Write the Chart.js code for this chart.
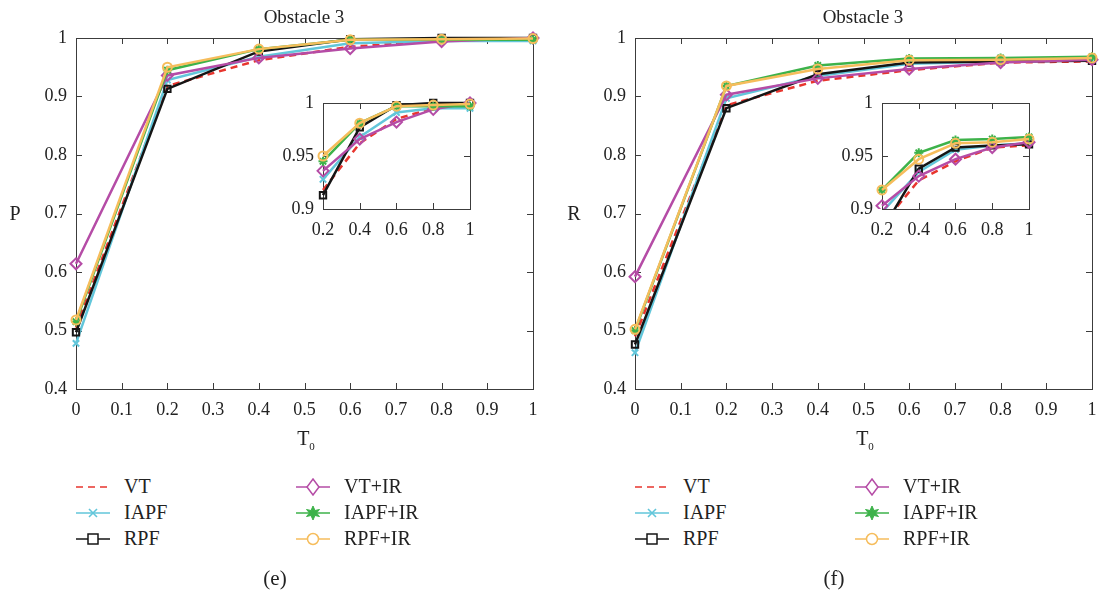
<!DOCTYPE html>
<html>
<head>
<meta charset="utf-8">
<script src="https://cdn.jsdelivr.net/npm/chart.js@4.4.0/dist/chart.umd.min.js"></script>
<style>
  body { margin: 0; background: #fff; font-family: 'Liberation Serif', serif; color: #222; }
  .panel { position: absolute; top: 0; width: 555px; height: 595px; }
  canvas { position: absolute; }
  .txt { position: absolute; font-size: 19px; white-space: nowrap; transform: translate(-50%, -50%); }
  .leg { position: absolute; font-size: 20px; white-space: nowrap; display: flex; align-items: center; }
  .leg svg { margin-right: 14px; }
</style>
</head>
<body>
<div id="root"></div>
<script>
// x values (T0)
const t0 = [0, 0.2, 0.4, 0.6, 0.8, 1];

const seriesNames = ['VT', 'IAPF', 'RPF', 'VT+IR', 'IAPF+IR', 'RPF+IR'];

// panel (e): precision P
const pVT     = [0.505, 0.918, 0.962, 0.985, 0.995, 1.000];
const pIAPF   = [0.478, 0.928, 0.968, 0.991, 0.995, 0.995];
const pRPF    = [0.497, 0.913, 0.977, 0.998, 1.000, 1.000];
const pVTIR   = [0.614, 0.936, 0.966, 0.982, 0.994, 1.000];
const pIAPFIR = [0.515, 0.945, 0.981, 0.997, 0.997, 0.997];
const pRPFIR  = [0.518, 0.950, 0.981, 0.997, 0.998, 0.999];

// panel (f): recall R
const rVT     = [0.490, 0.885, 0.927, 0.945, 0.958, 0.960];
const rIAPF   = [0.462, 0.897, 0.935, 0.956, 0.960, 0.962];
const rRPF    = [0.476, 0.880, 0.938, 0.958, 0.960, 0.961];
const rVTIR   = [0.592, 0.903, 0.931, 0.947, 0.958, 0.963];
const rIAPFIR = [0.500, 0.918, 0.953, 0.965, 0.966, 0.968];
const rRPFIR  = [0.502, 0.918, 0.947, 0.962, 0.963, 0.966];

// ticks
const xTicks = [0, 0.1, 0.2, 0.3, 0.4, 0.5, 0.6, 0.7, 0.8, 0.9, 1];
const xTickLabels = ['0', '0.1', '0.2', '0.3', '0.4', '0.5', '0.6', '0.7', '0.8', '0.9', '1'];
const yTicks = [0.4, 0.5, 0.6, 0.7, 0.8, 0.9, 1];
const yTickLabels = ['0.4', '0.5', '0.6', '0.7', '0.8', '0.9', '1'];
const insetXTicks = [0.2, 0.4, 0.6, 0.8, 1];
const insetXTickLabels = ['0.2', '0.4', '0.6', '0.8', '1'];
const insetYTicks = [0.9, 0.95, 1];
const insetYTickLabels = ['0.9', '0.95', '1'];

const colors = ['#e8352e', '#62c6da', '#151515', '#b54ca6', '#3db24a', '#f6bd5c'];
const markers = [false, 'crossRot', 'rect', 'rectRot', 'star', 'circle'];
const FONT = "'Liberation Serif', serif";

const boxTicks = {
  id: 'boxTicks',
  beforeDatasetsDraw(chart) {
    const { ctx, chartArea: a, scales: { x, y } } = chart;
    ctx.save();
    ctx.strokeStyle = '#3c3c3c';
    ctx.lineWidth = 1;
    ctx.strokeRect(Math.round(a.left) + 0.5, Math.round(a.top) + 0.5,
      Math.round(a.right - a.left), Math.round(a.bottom - a.top));
    ctx.beginPath();
    x.ticks.forEach(t => {
      const px = Math.round(x.getPixelForValue(t.value)) + 0.5;
      ctx.moveTo(px, a.bottom); ctx.lineTo(px, a.bottom - 6);
      ctx.moveTo(px, a.top); ctx.lineTo(px, a.top + 6);
    });
    y.ticks.forEach(t => {
      const py = Math.round(y.getPixelForValue(t.value)) + 0.5;
      ctx.moveTo(a.left, py); ctx.lineTo(a.left + 6, py);
      ctx.moveTo(a.right, py); ctx.lineTo(a.right - 6, py);
    });
    ctx.stroke();
    ctx.restore();
  }
};

function datasets(values, from, clip) {
  return values.map((v, i) => ({
    label: seriesNames[i],
    data: t0.slice(from).map((x, k) => ({ x: x, y: v[from + k] })),
    borderColor: colors[i],
    backgroundColor: 'transparent',
    borderWidth: 2.5,
    borderDash: i === 0 ? [7, 5] : [],
    pointStyle: markers[i] || 'circle',
    pointRadius: markers[i] ? (i === 3 ? 5.5 : 4.5) : 0,
    pointBorderWidth: 2,
    pointBorderColor: colors[i],
    pointBackgroundColor: i === 4 ? colors[i] : 'transparent',
    order: 5 - i,
    clip: clip
  }));
}

function scale(min, max, ticks, labels, pad, size, isX) {
  return {
    type: 'linear', min: min, max: max,
    grid: { display: false, drawTicks: false },
    border: { display: false },
    afterBuildTicks: s => { s.ticks = ticks.map(v => ({ value: v })); },
    afterFit: s => { if (isX) s.height = size; else s.width = size; },
    ticks: {
      autoSkip: false, maxRotation: 0, padding: pad,
      color: '#222', font: { family: FONT, size: 18 },
      callback: v => labels[ticks.findIndex(t => Math.abs(t - v) < 1e-9)]
    }
  };
}

function makeChart(canvas, dsets, xs, ys, padding) {
  return new Chart(canvas, {
    type: 'line',
    data: { datasets: dsets },
    options: {
      responsive: false, animation: false, devicePixelRatio: 1,
      layout: { padding: padding },
      plugins: { legend: { display: false }, tooltip: { enabled: false } },
      scales: { x: xs, y: ys }
    },
    plugins: [boxTicks]
  });
}

function legendIcon(i) {
  const c = colors[i];
  let m = '';
  if (markers[i] === 'crossRot') m = `<path d="M13 5 L21 13 M21 5 L13 13" stroke="${c}" stroke-width="1.6"/>`;
  if (markers[i] === 'rect') m = `<rect x="12" y="4" width="10" height="10" fill="#fff" stroke="${c}" stroke-width="1.5"/>`;
  if (markers[i] === 'rectRot') m = `<path d="M17 1 L23 9 L17 17 L11 9 Z" fill="#fff" stroke="${c}" stroke-width="1.5"/>`;
  if (markers[i] === 'star') m = `<path d="M17 2 L19 6.5 L23.5 5.5 L20.5 9 L23.5 12.5 L19 11.5 L17 16 L15 11.5 L10.5 12.5 L13.5 9 L10.5 5.5 L15 6.5 Z" fill="${c}" stroke="${c}" stroke-width="1"/>`;
  if (markers[i] === 'circle') m = `<circle cx="17" cy="9" r="5.5" fill="#fff" stroke="${c}" stroke-width="1.5"/>`;
  const dash = i === 0 ? 'stroke-dasharray="7 5"' : '';
  return `<svg width="34" height="18"><line x1="0" y1="9" x2="34" y2="9" stroke="${c}" stroke-width="1.6" ${dash}/>${m}</svg>`;
}

function panel(left, values, yLabel, tag) {
  const div = document.createElement('div');
  div.className = 'panel';
  div.style.left = left + 'px';
  document.getElementById('root').appendChild(div);

  const main = document.createElement('canvas');
  main.width = 555; main.height = 430;
  main.style.left = '0px'; main.style.top = '0px';
  div.appendChild(main);
  makeChart(main, datasets(values, 0, false),
    scale(0, 1, xTicks, xTickLabels, 10, 41, true),
    scale(0.4, 1, yTicks, yTickLabels, 9, 76, false),
    { left: 0, right: 22, top: 38, bottom: 0 });

  const inset = document.createElement('canvas');
  inset.width = 215; inset.height = 160;
  inset.style.left = '270px'; inset.style.top = '80px';
  div.appendChild(inset);
  makeChart(inset, datasets(values, 1, { left: 8, right: 8, top: 8, bottom: 0 }),
    scale(0.2, 1, insetXTicks, insetXTickLabels, 10, 31, true),
    scale(0.9, 1, insetYTicks, insetYTickLabels, 9, 53, false),
    { left: 0, right: 15, top: 23, bottom: 0 });

  const texts = [
    ['Obstacle 3', 304, 17, 19],
    [yLabel, 15, 213, 20],
    ['T<sub style="font-size:11px">0</sub>', 306, 439, 20],
    [tag, 275, 578, 21]
  ];
  texts.forEach(([t, x, y, fs]) => {
    const el = document.createElement('div');
    el.className = 'txt';
    el.innerHTML = t;
    el.style.fontSize = fs + 'px';
    el.style.left = x + 'px'; el.style.top = y + 'px';
    div.appendChild(el);
  });

  seriesNames.forEach((name, i) => {
    const el = document.createElement('div');
    el.className = 'leg';
    el.innerHTML = legendIcon(i) + '<span>' + name + '</span>';
    el.style.left = (i < 3 ? 76 : 296) + 'px';
    el.style.top = (475 + (i % 3) * 26) + 'px';
    div.appendChild(el);
  });
}

panel(0, [pVT, pIAPF, pRPF, pVTIR, pIAPFIR, pRPFIR], 'P', '(e)');
panel(559, [rVT, rIAPF, rRPF, rVTIR, rIAPFIR, rRPFIR], 'R', '(f)');
</script>
</body>
</html>
